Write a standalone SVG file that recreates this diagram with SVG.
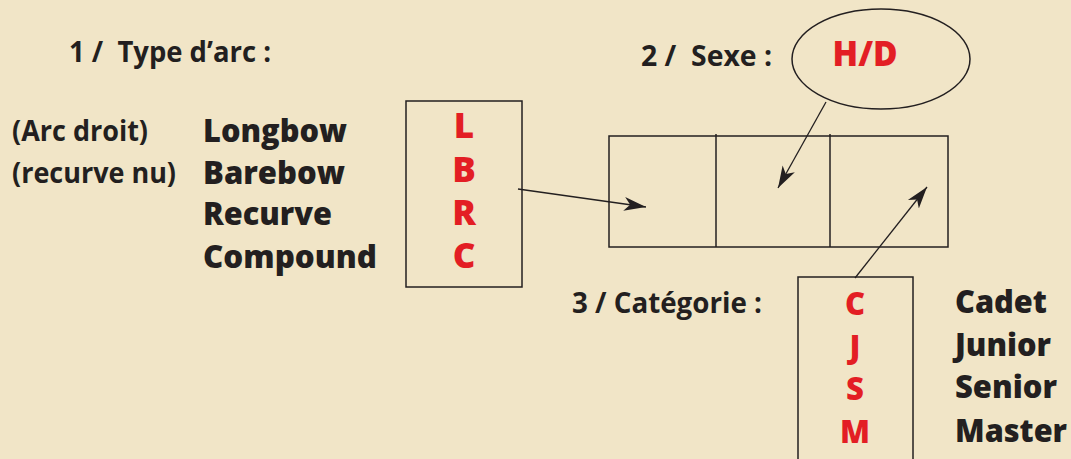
<svg xmlns="http://www.w3.org/2000/svg" width="1071" height="459" viewBox="0 0 1071 459">
<style>
.lbl{font-family:"Open Sans","Liberation Sans",sans-serif;font-weight:700;font-size:28px;fill:#231F20}
.big{font-family:"Open Sans","Liberation Sans",sans-serif;font-weight:800;font-size:32px;fill:#231F20}
.red{font-family:"Open Sans","Liberation Sans",sans-serif;font-weight:800;fill:#E31E24;text-anchor:middle}
.box{fill:none;stroke:#231F20;stroke-width:1.5}
.con{fill:none;stroke:#231F20;stroke-width:1.3}
</style>
<defs>
<marker id="ah" markerUnits="userSpaceOnUse" markerWidth="24" markerHeight="16" refX="22" refY="7" orient="auto" viewBox="0 0 24 14">
<path d="M0,0 L22,7 L0,14 L6,7 Z" fill="#231F20"/>
</marker>
</defs>
<rect width="1071" height="459" fill="#F1E5C7"/>
<g id="title1"><text class="lbl" x="69" y="62" textLength="202" lengthAdjust="spacingAndGlyphs">1 /&#160; Type d’arc :</text></g>
<g id="title2"><text class="lbl" x="641" y="66" textLength="131" lengthAdjust="spacingAndGlyphs">2 /&#160; Sexe :</text></g>
<g id="title3"><text class="lbl" x="572" y="313" textLength="190" lengthAdjust="spacingAndGlyphs">3 / Catégorie :</text></g>
<g id="notes">
<text class="lbl" x="12" y="141" textLength="136" lengthAdjust="spacingAndGlyphs">(Arc droit)</text>
<text class="lbl" x="12" y="183" textLength="164" lengthAdjust="spacingAndGlyphs">(recurve nu)</text>
</g>
<g id="types">
<text class="big" x="203" y="142" textLength="144" lengthAdjust="spacingAndGlyphs">Longbow</text>
<text class="big" x="203" y="184" textLength="142" lengthAdjust="spacingAndGlyphs">Barebow</text>
<text class="big" x="203" y="225" textLength="129" lengthAdjust="spacingAndGlyphs">Recurve</text>
<text class="big" x="203" y="268" textLength="174" lengthAdjust="spacingAndGlyphs">Compound</text>
</g>
<g id="box-type">
<rect class="box" x="406" y="101" width="116" height="186"/>
<text class="red" x="464" y="138" font-size="35">L</text>
<text class="red" x="464" y="182" font-size="35">B</text>
<text class="red" x="464" y="225" font-size="35">R</text>
<text class="red" x="464" y="268" font-size="35">C</text>
</g>
<g id="code-box">
<rect class="box" x="609" y="136" width="339" height="111"/>
<line class="box" x1="716" y1="134" x2="716" y2="247"/>
<line class="box" x1="830" y1="134" x2="830" y2="247"/>
</g>
<g id="sexe">
<ellipse class="box" cx="881" cy="59" rx="89" ry="50"/>
<text class="red" x="865" y="66" font-size="35" textLength="65" lengthAdjust="spacingAndGlyphs">H/D</text>
</g>
<g id="box-cat">
<rect class="box" x="798" y="277" width="115" height="200"/>
<text class="red" x="855" y="315" font-size="31">C</text>
<text class="red" x="855" y="358" font-size="31">J</text>
<text class="red" x="855" y="400" font-size="31">S</text>
<text class="red" x="855" y="443" font-size="31">M</text>
</g>
<g id="cats">
<text class="big" x="955" y="313" textLength="92" lengthAdjust="spacingAndGlyphs">Cadet</text>
<text class="big" x="955" y="356" textLength="96" lengthAdjust="spacingAndGlyphs">Junior</text>
<text class="big" x="955" y="398" textLength="102" lengthAdjust="spacingAndGlyphs">Senior</text>
<text class="big" x="955" y="442" textLength="112" lengthAdjust="spacingAndGlyphs">Master</text>
</g>
<g id="connectors">
<line class="con" x1="518" y1="189" x2="646" y2="207" marker-end="url(#ah)"/>
<line class="con" x1="826" y1="102" x2="778" y2="188" marker-end="url(#ah)"/>
<line class="con" x1="855" y1="278" x2="927" y2="187" marker-end="url(#ah)"/>
</g>
</svg>
